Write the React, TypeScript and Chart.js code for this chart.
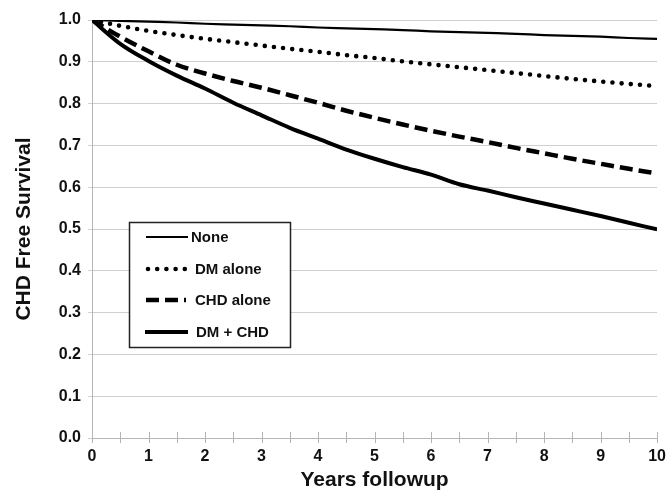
import React, { useEffect, useRef } from "react";
import { Chart, registerables } from "chart.js";

Chart.register(...registerables);

const years = [0, 0.5, 1, 1.5, 2, 2.5, 3, 3.5, 4, 4.5, 5, 5.5, 6, 6.5, 7, 7.5, 8, 8.5, 9, 9.5, 10];
const noneSeries = [1.0, 0.998, 0.996, 0.994, 0.991, 0.989, 0.987, 0.985, 0.982, 0.98, 0.978, 0.976, 0.973, 0.971, 0.969, 0.967, 0.964, 0.962, 0.96, 0.957, 0.955];
const dmAlone = [1.0, 0.986, 0.974, 0.964, 0.955, 0.947, 0.939, 0.931, 0.924, 0.916, 0.909, 0.901, 0.894, 0.887, 0.88, 0.873, 0.866, 0.859, 0.853, 0.847, 0.842];
const chdAlone = [1.0, 0.96, 0.925, 0.893, 0.872, 0.854, 0.838, 0.82, 0.802, 0.783, 0.766, 0.75, 0.735, 0.721, 0.708, 0.694, 0.681, 0.668, 0.656, 0.644, 0.633];
const dmPlusChd = [1.0, 0.943, 0.902, 0.867, 0.836, 0.802, 0.772, 0.742, 0.716, 0.69, 0.668, 0.648, 0.63, 0.607, 0.592, 0.576, 0.561, 0.546, 0.531, 0.515, 0.499];
const seriesLabels = ["None", "DM alone", "CHD alone", "DM + CHD"];
const xTitle = "Years followup";
const yTitle = "CHD Free Survival";

const FONT = "'Liberation Sans', Arial, sans-serif";
const GRID = "#cfcfcf";
const INK = "#111111";

const toPoints = (vals: number[]) => years.map((x, i) => ({ x, y: vals[i] }));

export default function App() {
  const ref = useRef<HTMLCanvasElement | null>(null);

  useEffect(() => {
    if (!ref.current) return;

    const xTickPlugin = {
      id: "xTickMarks",
      afterDraw(chart: any) {
        const ctx = chart.ctx;
        const xs = chart.scales.x;
        const bottom = chart.chartArea.bottom;
        ctx.save();
        ctx.strokeStyle = "#b5b5b5";
        ctx.lineWidth = 1;
        xs.ticks.forEach((t: any) => {
          const px = Math.round(xs.getPixelForValue(t.value)) + 0.5;
          ctx.beginPath();
          ctx.moveTo(px, bottom - 6);
          ctx.lineTo(px, bottom + 5);
          ctx.stroke();
        });
        ctx.restore();
      },
    };

    const legendPlugin = {
      id: "insideLegend",
      afterDraw(chart: any) {
        const ctx = chart.ctx;
        ctx.save();
        ctx.fillStyle = "#ffffff";
        ctx.fillRect(129, 222, 162, 126);
        ctx.strokeStyle = "#222";
        ctx.lineWidth = 1.5;
        ctx.strokeRect(129.5, 222.5, 161, 125);
        const rows = [
          { y: 237, x0: 146, x1: 188, tx: 191 },
          { y: 269, x0: 148, x1: 186, tx: 195 },
          { y: 300, x0: 146, x1: 186, tx: 195 },
          { y: 332, x0: 145, x1: 188, tx: 196 },
        ];
        chart.data.datasets.forEach((ds: any, i: number) => {
          const r = rows[i];
          ctx.beginPath();
          ctx.strokeStyle = ds.borderColor;
          ctx.lineWidth = ds.borderWidth;
          ctx.lineCap = ds.borderCapStyle || "butt";
          ctx.setLineDash(ds.borderDash || []);
          ctx.moveTo(r.x0, r.y);
          ctx.lineTo(r.x1, r.y);
          ctx.stroke();
          ctx.setLineDash([]);
          ctx.fillStyle = INK;
          ctx.font = `bold 15px ${FONT}`;
          ctx.textAlign = "left";
          ctx.textBaseline = "middle";
          ctx.fillText(ds.label, r.tx, r.y + 1);
        });
        ctx.restore();
      },
    };

    const chart = new Chart(ref.current, {
      type: "line",
      data: {
        datasets: [
          {
            label: seriesLabels[0],
            data: toPoints(noneSeries),
            borderColor: "#000",
            borderWidth: 2.2,
            pointRadius: 0,
            cubicInterpolationMode: "monotone",
          },
          {
            label: seriesLabels[1],
            data: toPoints(dmAlone),
            borderColor: "#000",
            borderWidth: 4.6,
            borderDash: [0, 9.2],
            borderCapStyle: "round",
            pointRadius: 0,
            cubicInterpolationMode: "monotone",
          },
          {
            label: seriesLabels[2],
            data: toPoints(chdAlone),
            borderColor: "#000",
            borderWidth: 4.5,
            borderDash: [13, 6],
            pointRadius: 0,
            cubicInterpolationMode: "monotone",
          },
          {
            label: seriesLabels[3],
            data: toPoints(dmPlusChd),
            borderColor: "#000",
            borderWidth: 4,
            pointRadius: 0,
            cubicInterpolationMode: "monotone",
          },
        ],
      } as any,
      options: {
        animation: false,
        responsive: false,
        devicePixelRatio: 1,
        layout: { padding: { top: 20, right: 10, left: 0, bottom: 0 } },
        plugins: { legend: { display: false }, tooltip: { enabled: false } },
        scales: {
          x: {
            type: "linear",
            min: 0,
            max: 10,
            afterFit: (s: any) => {
              s.height = 56;
            },
            ticks: {
              stepSize: 0.5,
              autoSkip: false,
              maxRotation: 0,
              padding: 4,
              color: INK,
              font: { family: FONT, size: 16, weight: "bold" },
              callback: (v: any) => (Number.isInteger(v) ? String(v) : ""),
            },
            grid: { display: true, drawOnChartArea: false, drawTicks: true, tickLength: 5, color: "rgba(0,0,0,0)" },
            border: { display: true, color: "#b5b5b5", width: 1 },
            title: {
              display: true,
              text: xTitle,
              color: INK,
              font: { family: FONT, size: 21, weight: "bold" },
              padding: { top: 0, bottom: 1 },
            },
          },
          y: {
            type: "linear",
            min: 0,
            max: 1,
            afterFit: (s: any) => {
              s.width = 92;
            },
            ticks: {
              stepSize: 0.1,
              padding: 7,
              color: INK,
              font: { family: FONT, size: 16, weight: "bold" },
              callback: (v: any) => Number(v).toFixed(1),
            },
            grid: { color: GRID, lineWidth: 1, drawTicks: true, tickLength: 4 },
            border: { display: true, color: "#b5b5b5", width: 1 },
            title: {
              display: true,
              text: yTitle,
              color: INK,
              font: { family: FONT, size: 21, weight: "bold" },
              padding: { top: 12, bottom: 0 },
            },
          },
        },
      } as any,
      plugins: [xTickPlugin, legendPlugin],
    });

    return () => chart.destroy();
  }, []);

  return (
    <div style={{ position: "absolute", left: 0, top: 0, width: 670, height: 494, background: "#fff" }}>
      <canvas ref={ref} width={670} height={494} />
    </div>
  );
}
